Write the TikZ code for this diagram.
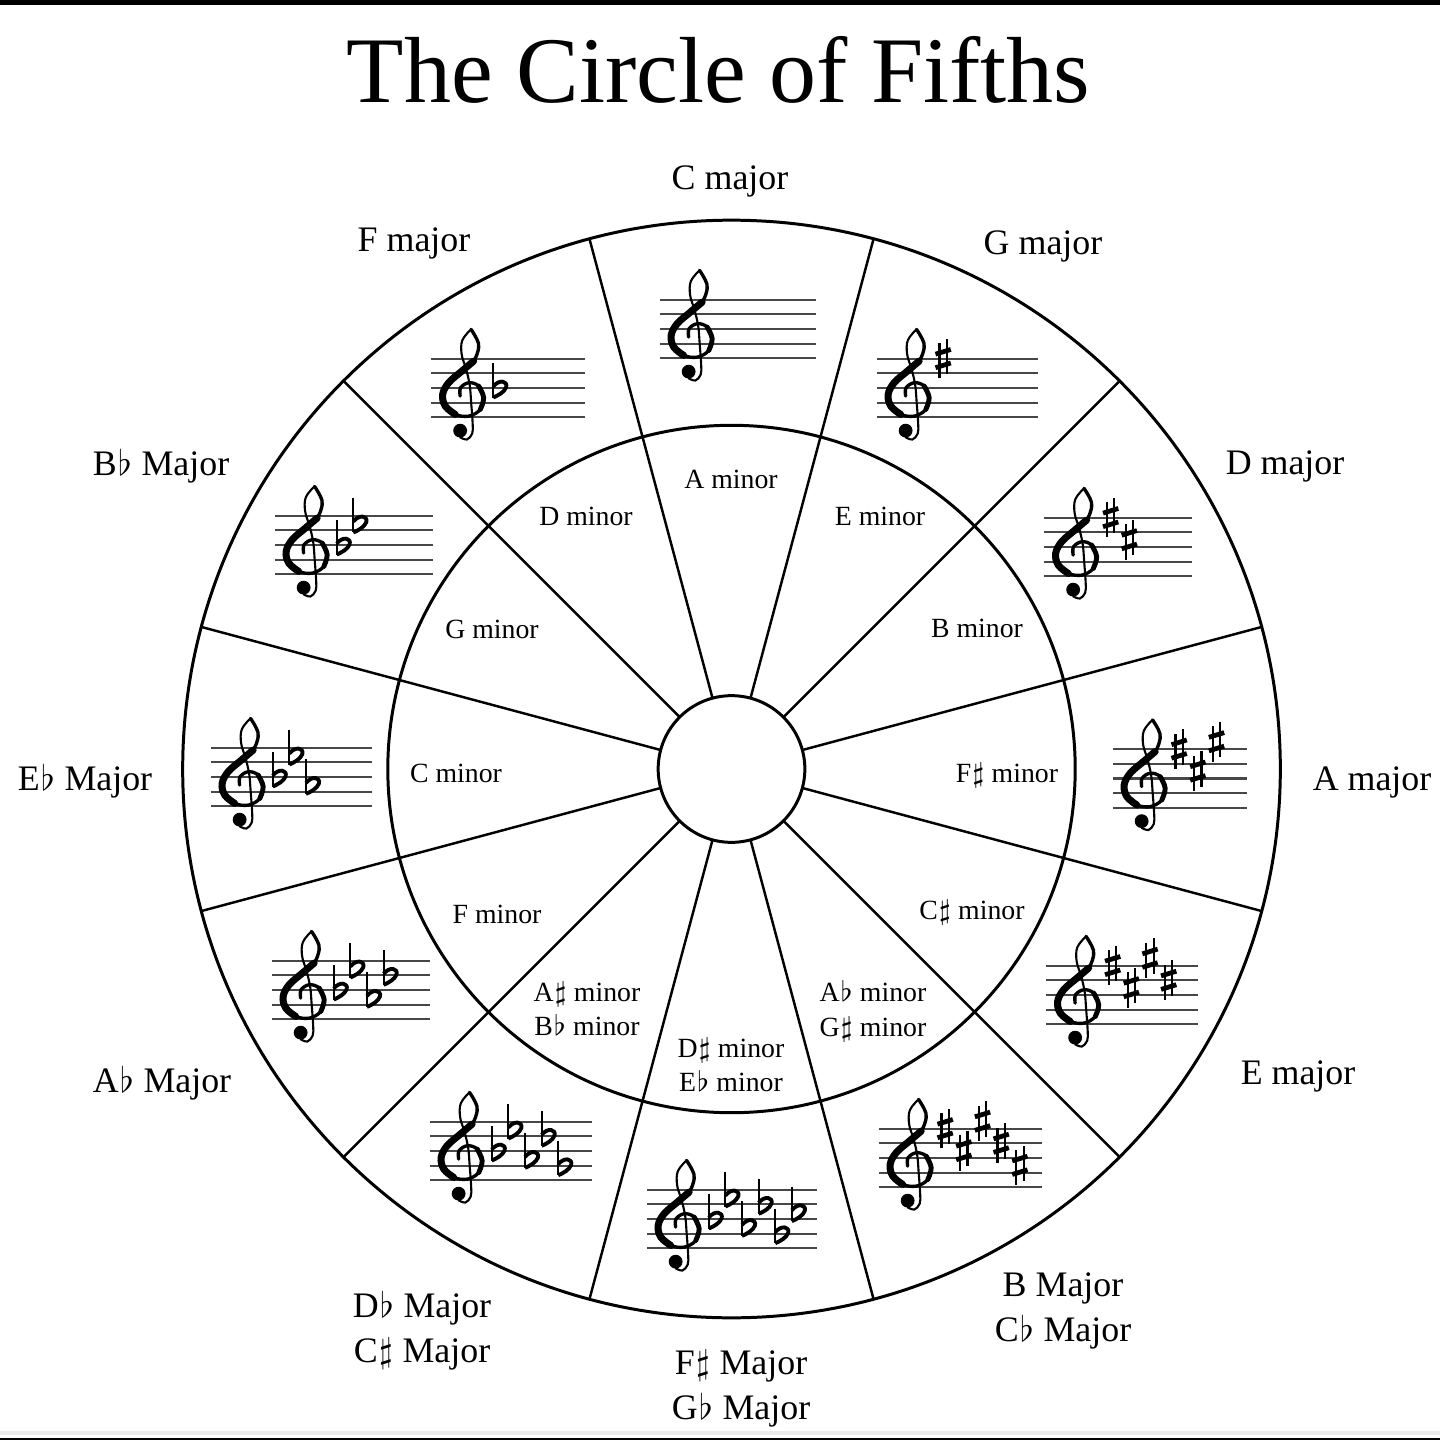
\documentclass[tikz,border=0pt]{standalone}
\usepackage{fontspec}
\setmainfont{Liberation Serif}
\newcommand\myflat{\kern0.04em$\flat$\kern0.02em}
\newcommand\mysharp{\kern0.04em$\sharp$\kern0.02em}
\tikzset{
  staffline/.style={line width=0.6pt, black!72},
  ring/.style={line width=0.85pt},
  divline/.style={line width=0.7pt},
  majlab/.style={font=\fontsize{10.2}{12.8}\selectfont, align=center, inner sep=0pt},
  minlab/.style={font=\fontsize{7.9}{9.8}\selectfont, align=center, inner sep=0pt},
  trebleclef/.pic={
    \draw[line width=0.6pt, line cap=round] plot[smooth, tension=0.6] coordinates {(0.14,4.99) (-0.45,4.25) (-0.5,3.3) (-0.2,2.3) (0.05,1.2) (0.15,0) (0.25,-1.4) (0.22,-2.1) (-0.14,-2.5) (-0.6,-2.35)};
    \draw[line width=0.95pt, line cap=round] plot[smooth, tension=0.6] coordinates {(0.14,4.99) (0.54,4.31) (0.66,3.74) (0.32,2.83) (-0.48,2.15) (-1.38,1.36) (-1.79,0.56) (-1.61,-0.23) (-0.93,-0.80) (0,-0.91) (0.77,-0.46) (1.0,0.34) (0.66,1.13) (0,1.36) (-0.57,1.02) (-0.6,0.45)};
    \draw[line width=2.0pt, line cap=round] plot[smooth, tension=0.6] coordinates {(0.32,2.83) (-0.48,2.15) (-1.38,1.36) (-1.79,0.56) (-1.61,-0.23) (-0.93,-0.80)};
    \draw[line width=1.4pt, line cap=round] plot[smooth, tension=0.6] coordinates {(0.77,-0.46) (1.0,0.34) (0.66,1.13)};
    \fill (-0.6,-1.9) circle[radius=0.47];
  },
  sharpsign/.pic={
    \draw[line width=0.6pt] (-0.25,-1.35) -- (-0.25,1.05) (0.25,-1.05) -- (0.25,1.35);
    \draw[line width=1.35pt] (-0.52,-0.62) -- (0.52,-0.3) (-0.52,0.3) -- (0.52,0.62);
  },
  flatsign/.pic={
    \draw[line width=0.6pt] (-0.3,1.7) -- (-0.3,-0.65);
    \draw[line width=1.1pt, line join=round] (-0.3,0.1) .. controls (0.1,0.6) and (0.7,0.5) .. (0.58,0.05) .. controls (0.45,-0.28) and (0.05,-0.5) .. (-0.3,-0.65);
  }
}
% x, y (image coords), length px
\newcommand\plainstaff[3]{%
  \begin{scope}[shift={(#1,-#2)}, x=0.147cm, y=0.147cm]
    \pgfmathsetmacro\halfL{#3/29.4}
    \foreach \k in {-2,-1,0,1,2} \draw[staffline] (-\halfL,\k) -- (\halfL,\k);
    \pgfmathsetmacro\clefx{-\halfL+2.55}
    \pic at (\clefx,-1) {trebleclef};
  \end{scope}}
% x, y, length, pic, list of heights, spacing
\newcommand\keystaff[6]{%
  \begin{scope}[shift={(#1,-#2)}, x=0.147cm, y=0.147cm]
    \pgfmathsetmacro\halfL{#3/29.4}
    \foreach \k in {-2,-1,0,1,2} \draw[staffline] (-\halfL,\k) -- (\halfL,\k);
    \pgfmathsetmacro\clefx{-\halfL+2.55}
    \pic at (\clefx,-1) {trebleclef};
    \foreach \yy [count=\i] in {#5} \pic at ({\clefx+1.95+(\i-1)*#6},\yy) {#4};
  \end{scope}}
\begin{document}
\begin{tikzpicture}[x=0.01cm, y=0.01cm]
\useasboundingbox (0,0) rectangle (1440,-1440);
\fill[white] (0,0) rectangle (1440,-1440);
\fill[black] (0,0) rectangle (1440,-5);
\fill[black!8] (0,-1430.5) rectangle (1440,-1434.5);
\fill[black] (0,-1437.5) rectangle (1440,-1440);

\node[font=\fontsize{26.7}{30}\selectfont, anchor=base, inner sep=0pt] (title) at (718.5,-103) {The Circle of Fifths};

\coordinate (O) at (731.5,-769);
\begin{scope}[shift={(O)}]
  \draw[ring] (0,0) circle[radius=5.485cm];
  \draw[ring] (0,0) circle[radius=3.435cm];
  \draw[ring] (0,0) circle[radius=0.733cm];
  \foreach \a in {15,45,...,345} {
    \draw[divline] (\a:343.5) -- (\a:548.5);
    \draw[divline] (\a:73.3) -- (\a:343.5);
  }
\end{scope}

% staves
\plainstaff{738}{329}{156}
\keystaff{957.5}{388}{161}{sharpsign}{2}{1.27}
\keystaff{1118}{547}{147}{sharpsign}{2,0.5}{1.27}
\keystaff{1180}{778.5}{134}{sharpsign}{2,0.5,2.5}{1.27}
\keystaff{1122}{995}{151}{sharpsign}{2,0.5,2.5,1}{1.27}
\keystaff{960.5}{1158}{163}{sharpsign}{2,0.5,2.5,1,-0.5}{1.27}
\keystaff{732}{1219}{170}{flatsign}{0,1.5,-0.5,1,-1,0.5}{1.13}
\keystaff{511}{1151}{162}{flatsign}{0,1.5,-0.5,1,-1}{1.13}
\keystaff{351}{990}{158}{flatsign}{0,1.5,-0.5,1}{1.13}
\keystaff{291.5}{777}{161}{flatsign}{0,1.5,-0.5}{1.13}
\keystaff{354}{545}{158}{flatsign}{0,1.5}{1.13}
\keystaff{508}{388}{153}{flatsign}{0}{1.13}

% major labels
\node[majlab] (lC) at (730,-181) {C major};
\node[majlab] (lG) at (1043,-246) {G major};
\node[majlab] (lD) at (1285,-466) {D major};
\node[majlab] (lA) at (1372,-782) {A major};
\node[majlab] (lE) at (1298,-1076) {E major};
\node[majlab] (lB) at (1063,-1311) {B Major\\C\myflat{} Major};
\node[majlab] (lFs) at (741,-1389) {F\mysharp{} Major\\G\myflat{} Major};
\node[majlab] (lDb) at (422,-1331) {D\myflat{} Major\\C\mysharp{} Major};
\node[majlab] (lAb) at (162,-1083) {A\myflat{} Major};
\node[majlab] (lEb) at (85,-781) {E\myflat{} Major};
\node[majlab] (lBb) at (161,-466) {B\myflat{} Major};
\node[majlab] (lF) at (414,-243) {F major};

% minor labels
\node[minlab] (ma) at (731,-479) {A minor};
\node[minlab] (me) at (880,-516) {E minor};
\node[minlab] (mb) at (977,-628) {B minor};
\node[minlab] (mfs) at (1007,-775) {F\mysharp{} minor};
\node[minlab] (mcs) at (972,-912) {C\mysharp{} minor};
\node[minlab] (mab) at (873,-1011) {A\myflat{} minor\\G\mysharp{} minor};
\node[minlab] (mds) at (731,-1065) {D\mysharp{} minor\\E\myflat{} minor};
\node[minlab] (mas) at (587,-1009) {A\mysharp{} minor\\B\myflat{} minor};
\node[minlab] (mf) at (497,-914) {F minor};
\node[minlab] (mc) at (456,-773) {C minor};
\node[minlab] (mg) at (492,-629) {G minor};
\node[minlab] (md) at (586,-516) {D minor};
\end{tikzpicture}
\end{document}
